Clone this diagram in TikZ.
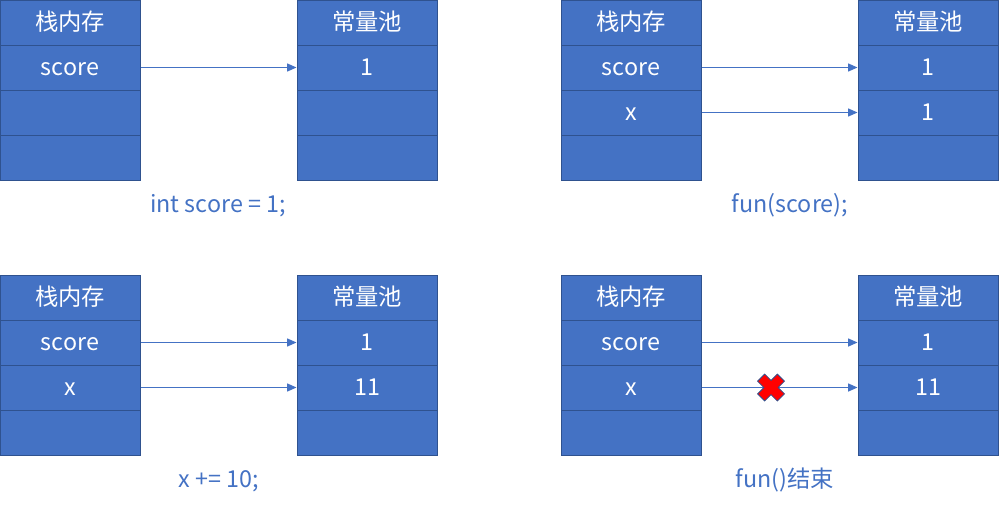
\documentclass[tikz,border=0pt]{standalone}
\usepackage{fontspec}
\setmainfont{Noto Sans CJK SC}
\usetikzlibrary{arrows.meta, positioning}
\definecolor{cellblue}{HTML}{4472C4}
\definecolor{cellborder}{HTML}{2F528F}
\definecolor{xred}{HTML}{FF0000}

\begin{document}
\begin{tikzpicture}[
  x=0.75pt, y=-0.75pt,
  every node/.style={font=\fontsize{17.5}{21}\selectfont, text height=15pt, text depth=3.4pt},
  cell/.style={rectangle, draw=cellborder, fill=cellblue, text=white, minimum width=105pt, minimum height=33.75pt, inner sep=0pt, line width=0.75pt},
  codelabel/.style={text=cellblue},
  ref/.style={-{Triangle[length=7pt,width=6pt]}, cellblue, line width=0.75pt},
]
\useasboundingbox (0,0) rectangle (999,508);
% (a) int score = 1;
\node[cell] (a1) at (70,22.5) {栈内存};
\node[cell] (a2) at (70,67.5) {score};
\node[cell] (a3) at (70,112.5) {};
\node[cell] (a4) at (70,157.5) {};
\node[cell] (ap1) at (367,22.5) {常量池};
\node[cell] (ap2) at (367,67.5) {1};
\node[cell] (ap3) at (367,112.5) {};
\node[cell] (ap4) at (367,157.5) {};
\draw[ref] (a2)--(ap2);
\node[codelabel] (alab) at (218,205) {int score = 1;};

% (b) fun(score);
\node[cell] (b1) at (631,22.5) {栈内存};
\node[cell] (b2) at (631,67.5) {score};
\node[cell] (b3) at (631,112.5) {x};
\node[cell] (b4) at (631,157.5) {};
\node[cell] (bp1) at (928,22.5) {常量池};
\node[cell] (bp2) at (928,67.5) {1};
\node[cell] (bp3) at (928,112.5) {1};
\node[cell] (bp4) at (928,157.5) {};
\draw[ref] (b2)--(bp2);\draw[ref] (b3)--(bp3);
\node[codelabel] (blab) at (790,205) {fun(score);};

% (c) x += 10;
\node[cell] (c1) at (70,297.5) {栈内存};
\node[cell] (c2) at (70,342.5) {score};
\node[cell] (c3) at (70,387.5) {x};
\node[cell] (c4) at (70,432.5) {};
\node[cell] (cp1) at (367,297.5) {常量池};
\node[cell] (cp2) at (367,342.5) {1};
\node[cell] (cp3) at (367,387.5) {11};
\node[cell] (cp4) at (367,432.5) {};
\draw[ref] (c2)--(cp2);\draw[ref] (c3)--(cp3);
\node[codelabel] (clab) at (219,480) {x += 10;};

% (d) fun() ends
\node[cell] (d1) at (631,297.5) {栈内存};
\node[cell] (d2) at (631,342.5) {score};
\node[cell] (d3) at (631,387.5) {x};
\node[cell] (d4) at (631,432.5) {};
\node[cell] (dp1) at (928,297.5) {常量池};
\node[cell] (dp2) at (928,342.5) {1};
\node[cell] (dp3) at (928,387.5) {11};
\node[cell] (dp4) at (928,432.5) {};
\draw[ref] (d2)--(dp2);\draw[ref] (d3)--(dp3);
\coordinate (xmark) at (771,387.5);
\draw[fill=xred, draw=cellborder, line width=0.6pt, shift={(xmark)}, rotate=45]
  (-5,-14) -- (5,-14) -- (5,-5) -- (14,-5) -- (14,5) -- (5,5) -- (5,14) -- (-5,14)
  -- (-5,5) -- (-14,5) -- (-14,-5) -- (-5,-5) -- cycle;
\node[codelabel] (dlab) at (785,480) {fun()结束};
\end{tikzpicture}
\end{document}
